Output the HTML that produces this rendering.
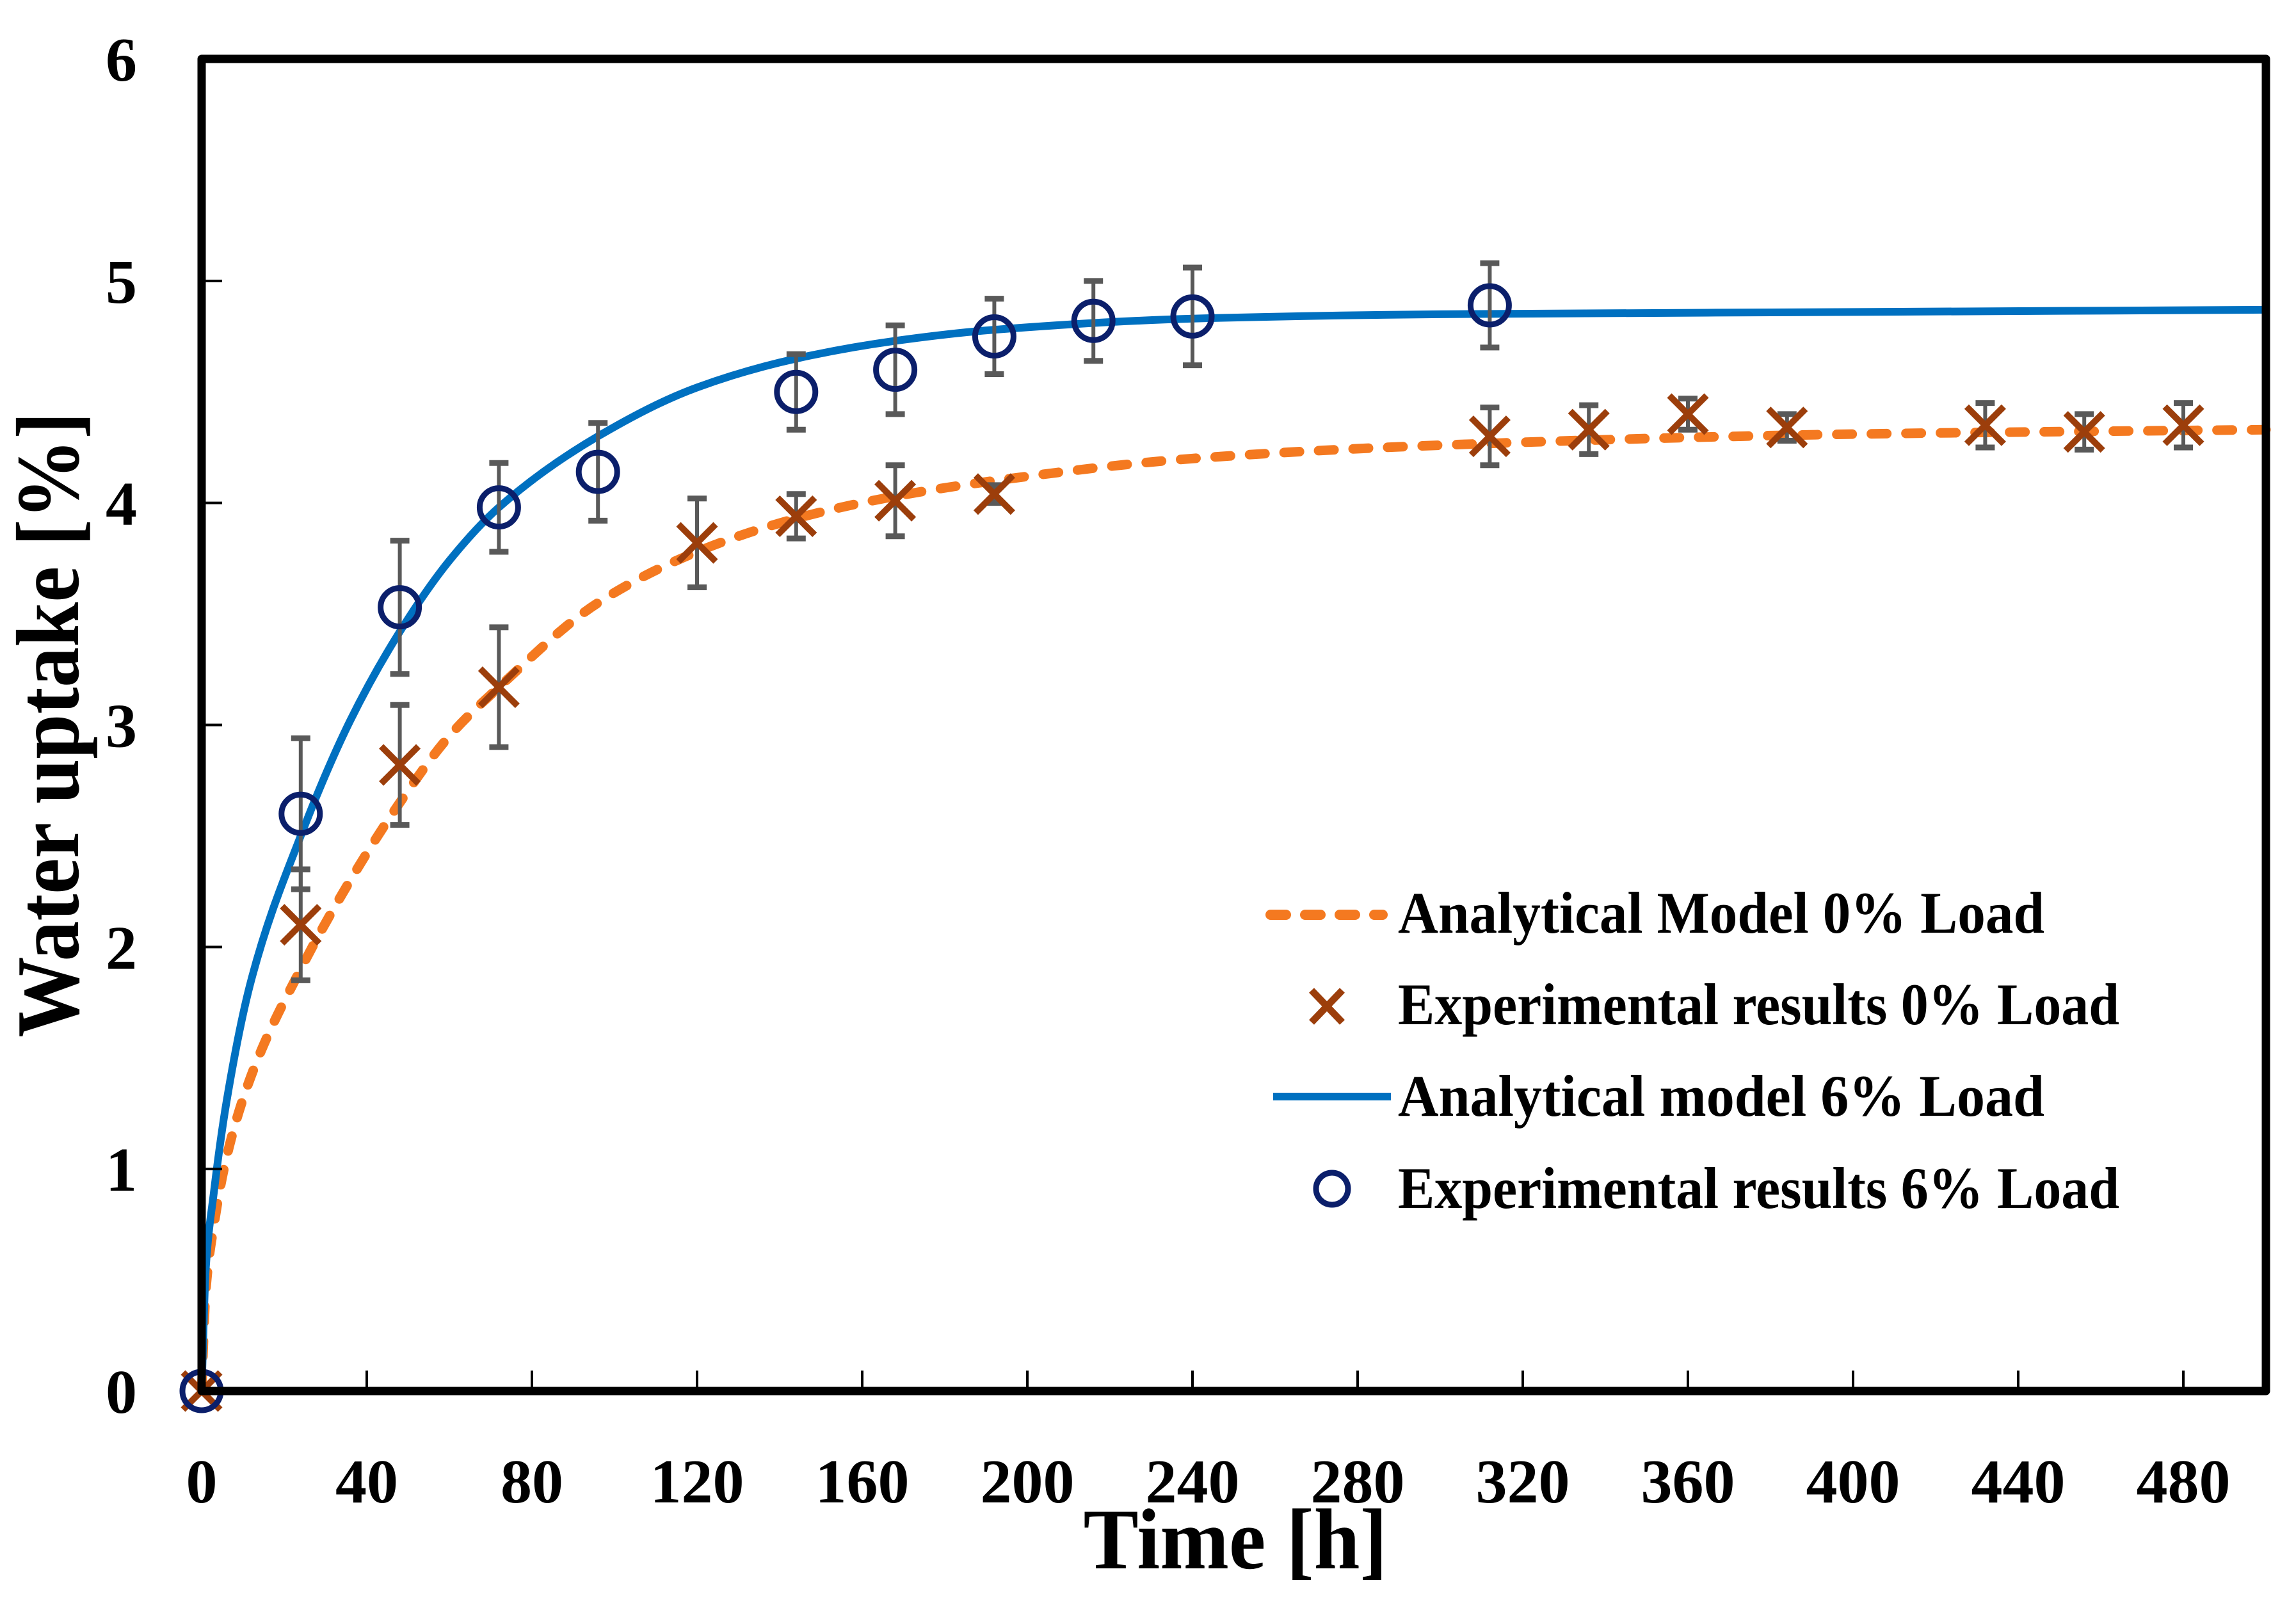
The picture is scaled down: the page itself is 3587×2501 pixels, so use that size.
<!DOCTYPE html>
<html><head><meta charset="utf-8"><style>
html,body{margin:0;padding:0;background:#fff;}
svg{display:block;}
text{font-family:"Liberation Serif",serif;font-weight:bold;fill:#000;}
</style></head><body>
<svg id="chart" width="3587" height="2501" viewBox="0 0 3587 2501" xmlns="http://www.w3.org/2000/svg">
<rect width="3587" height="2501" fill="#fff"/>
<g id="curves"></g>
<g id="errs"></g>
<g id="marks"></g>
<rect x="315" y="92" width="3225" height="2081" fill="none" stroke="#000" stroke-width="13" stroke-linejoin="round"/>
<g id="ticks"></g>
<text x="1930" y="2450" font-size="135" text-anchor="middle" textLength="475" lengthAdjust="spacingAndGlyphs">Time [h]</text>
<text transform="translate(122,1132) rotate(-90)" font-size="140" text-anchor="middle" textLength="977" lengthAdjust="spacingAndGlyphs">Water uptake [%]</text>
<g id="legend">
  <line x1="1985" y1="1429" x2="2160" y2="1429" stroke="#F47920" stroke-width="16" stroke-linecap="round" stroke-dasharray="24,30"/>
  <text x="2184" y="1457" font-size="92" textLength="1010" lengthAdjust="spacingAndGlyphs">Analytical Model 0% Load</text>
  <g stroke="#9C3E0B" stroke-width="11">
    <line x1="2049" y1="1547" x2="2097" y2="1597"/><line x1="2097" y1="1547" x2="2049" y2="1597"/>
  </g>
  <text x="2184" y="1600" font-size="92" textLength="1127" lengthAdjust="spacingAndGlyphs">Experimental results 0% Load</text>
  <line x1="1989" y1="1713" x2="2173" y2="1713" stroke="#0070C0" stroke-width="12"/>
  <text x="2184" y="1743" font-size="92" textLength="1010" lengthAdjust="spacingAndGlyphs">Analytical model 6% Load</text>
  <circle cx="2081" cy="1857" r="25" fill="none" stroke="#0B1F6B" stroke-width="9"/>
  <text x="2184" y="1887" font-size="92" textLength="1127" lengthAdjust="spacingAndGlyphs">Experimental results 6% Load</text>
</g>
</svg>
<script>
const xTicks = [0,40,80,120,160,200,240,280,320,360,400,440,480];
const yTicks = [0,1,2,3,4,5,6];
const exp6T = [0,24,48,72,96,144,168,192,216,240,312];
const exp6Y = [0,2.6,3.53,3.98,4.14,4.5,4.6,4.75,4.82,4.84,4.89];
const exp6E = [0,0.34,0.3,0.2,0.22,0.17,0.2,0.17,0.18,0.22,0.19];
const exp0T = [0,24,48,72,120,144,168,192,312,336,360,384,432,456,480];
const exp0Y = [0,2.1,2.82,3.17,3.82,3.94,4.01,4.04,4.3,4.33,4.4,4.34,4.35,4.32,4.35];
const exp0E = [0,0.25,0.27,0.27,0.2,0.1,0.16,0.04,0.13,0.11,0.07,0.06,0.1,0.08,0.1];
const modelT = [0,1,3,6,12,24,36,48,60,72,96,120,144,168,192,240,300,400,500];
const model6Y = [0,0.55,0.9,1.3,1.85,2.5,3.02,3.42,3.74,3.98,4.3,4.52,4.65,4.73,4.78,4.83,4.85,4.86,4.87];
const model0Y = [0,0.45,0.75,1.05,1.42,1.9,2.3,2.65,2.95,3.17,3.55,3.78,3.93,4.03,4.1,4.2,4.26,4.31,4.33];

const NS='http://www.w3.org/2000/svg';
const X0=315, X1=3540, Y0=2173, Y1=92, XMAX=500, YMAX=6;
const sx=t=>X0+t*(X1-X0)/XMAX;
const sy=v=>Y0-v*(Y0-Y1)/YMAX;
function mk(tag,attrs,parent){const e=document.createElementNS(NS,tag);for(const k in attrs)e.setAttribute(k,attrs[k]);parent.appendChild(e);return e;}
const ticks=document.getElementById('ticks');
xTicks.forEach(t=>{
  if(t>0){const l=mk('line',{x1:sx(t),x2:sx(t),y1:Y0,y2:Y0-32,stroke:'#000','stroke-width':4},ticks);
  
  }
  const tx=mk('text',{x:sx(t),y:2347,'font-size':98,'text-anchor':'middle'},ticks);
  tx.textContent=t;
  
  
});
yTicks.forEach(v=>{
  if(v>0&&v<6){const l=mk('line',{x1:X0,x2:X0+32,y1:sy(v),y2:sy(v),stroke:'#000','stroke-width':4},ticks);
  
  }
  const tx=mk('text',{x:214,y:sy(v)+34,'font-size':98,'text-anchor':'end'},ticks);
  tx.textContent=v;
  
  
});
// monotone cubic interpolation (Fritsch-Carlson) in data space
function monoPath(ts,ys){
  const n=ts.length,d=[],m=new Array(n);
  for(let i=0;i<n-1;i++)d.push((ys[i+1]-ys[i])/(ts[i+1]-ts[i]));
  m[0]=d[0];m[n-1]=d[n-2];
  for(let i=1;i<n-1;i++){
    if(d[i-1]*d[i]<=0)m[i]=0;
    else{const w1=2*(ts[i+1]-ts[i])+(ts[i]-ts[i-1]),w2=(ts[i+1]-ts[i])+2*(ts[i]-ts[i-1]);
      m[i]=(w1+w2)/(w1/d[i-1]+w2/d[i]);}
  }
  let p='M'+sx(ts[0])+','+sy(ys[0]);
  for(let i=0;i<n-1;i++){
    const h=ts[i+1]-ts[i];
    const t1=ts[i]+h/3,y1=ys[i]+m[i]*h/3,t2=ts[i+1]-h/3,y2=ys[i+1]-m[i+1]*h/3;
    p+=' C'+sx(t1)+','+sy(y1)+' '+sx(t2)+','+sy(y2)+' '+sx(ts[i+1])+','+sy(ys[i+1]);
  }
  return p;
}
const curves=document.getElementById('curves');
const c0=mk('path',{d:monoPath(modelT,model0Y),fill:'none',stroke:'#F47920','stroke-width':15,'stroke-linecap':'round','stroke-dasharray':'24,30'},curves);


const c6=mk('path',{d:monoPath(modelT,model6Y),fill:'none',stroke:'#0070C0','stroke-width':12},curves);


const errs=document.getElementById('errs');
function errbar(t,v,e){
  if(e<=0)return;
  const g=mk('g',{stroke:'#595959','stroke-width':6},errs);
  
  
  const x=sx(t),ya=sy(v+e),yb=sy(v-e);
  mk('line',{x1:x,x2:x,y1:ya,y2:yb},g);
  mk('line',{x1:x-15,x2:x+15,y1:ya,y2:ya,'stroke-width':9},g);
  mk('line',{x1:x-15,x2:x+15,y1:yb,y2:yb,'stroke-width':9},g);
}
exp6T.forEach((t,i)=>errbar(t,exp6Y[i],exp6E[i]));
exp0T.forEach((t,i)=>errbar(t,exp0Y[i],exp0E[i]));
const marks=document.getElementById('marks');
exp0T.forEach((t,i)=>{
  const x=sx(t),y=sy(exp0Y[i]),h=29;
  const g=mk('g',{stroke:'#9C3E0B','stroke-width':10},marks);
  
  
  mk('line',{x1:x-h,y1:y-h,x2:x+h,y2:y+h},g);
  mk('line',{x1:x+h,y1:y-h,x2:x-h,y2:y+h},g);
});
exp6T.forEach((t,i)=>{
  const c=mk('circle',{cx:sx(t),cy:sy(exp6Y[i]),r:30,fill:'none',stroke:'#0B1F6B','stroke-width':9},marks);
  
  
});
</script>
</body></html>
